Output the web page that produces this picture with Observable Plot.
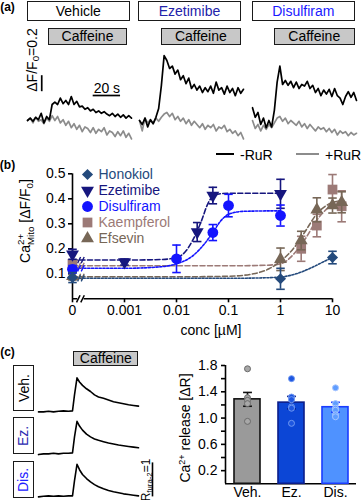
<!DOCTYPE html>
<html>
<head>
<meta charset="utf-8">
<script src="https://cdn.jsdelivr.net/npm/d3@7"></script>
<script src="https://cdn.jsdelivr.net/npm/@observablehq/plot@0.6"></script>
<style>
html,body{margin:0;padding:0;background:#fff;}
#fig{position:relative;width:363px;height:500px;overflow:hidden;background:#fff;font-family:"Liberation Sans",Arial,Helvetica,sans-serif;color:#000;}
#fig svg{position:absolute;}
.box{position:absolute;box-sizing:border-box;border:1.6px solid #1a1a1a;display:flex;align-items:center;justify-content:center;font-size:14px;line-height:1;white-space:nowrap;}
.lbl{position:absolute;white-space:nowrap;line-height:1;font-size:14px;}
.rotin{display:inline-block;transform:rotate(-90deg);}
</style>
</head>
<body>
<div id="fig"></div>
<script>
// ================= DATA =================
// (a) mitochondrial Ca2+ traces, ΔF/F0 relative to baseline, sampled every 2 s
const aTime = [0,2,4,6,8,10,12,14,16,18,20,22,24,26,28,30,32,34,36,38,40,42,44,46,48,50,52,54,56,58,60,62,64,66,68,70,72,74,76];
const aConditions = ["Vehicle","Ezetimibe","Disulfiram"];
const vehicleMinusRuR = [0,0.03,-0.01,0.04,0.01,0.09,-0.03,0.05,0.01,0.2,0.23,0.2,0.28,0.21,0.25,0.2,0.3,0.2,0.24,0.17,0.18,0.14,0.16,0.12,0.14,0.1,0.12,0.09,0.11,0.08,0.06,0.09,0.05,0.08,0.04,0.07,0.03,0.06,0.03];
const vehiclePlusRuR = [0,0.03,-0.03,0.04,-0.01,0.01,-0.04,0.03,-0.01,0.06,0,0.05,-0.03,0.01,-0.06,-0.01,-0.09,-0.04,-0.11,-0.06,-0.14,-0.08,-0.1,-0.15,-0.09,-0.16,-0.11,-0.14,-0.09,-0.18,-0.13,-0.15,-0.2,-0.14,-0.19,-0.13,-0.21,-0.16,-0.23];
const ezetimibeMinusRuR = [0,-0.05,0.03,-0.08,0.01,-0.04,0.04,0.15,0.44,0.81,0.75,0.65,0.68,0.58,0.63,0.51,0.56,0.46,0.53,0.4,0.45,0.38,0.43,0.35,0.41,0.36,0.43,0.34,0.48,0.38,0.41,0.33,0.43,0.35,0.4,0.31,0.41,0.34,0.39];
const ezetimibePlusRuR = [0,-0.13,0.03,-0.03,0.01,-0.04,0.03,-0.01,0.04,0.08,0.1,0.05,0.09,0.01,0.05,-0.01,0.03,-0.04,0.01,-0.06,-0.01,-0.05,-0.09,-0.04,-0.11,-0.06,-0.09,-0.05,-0.13,-0.08,-0.1,-0.06,-0.14,-0.11,-0.16,-0.13,-0.19,-0.15,-0.23];
const disulfiramMinusRuR = [0.16,0.04,0.1,-0.05,0.03,-0.09,0,-0.08,0.13,0.48,0.68,0.45,0.5,0.44,0.49,0.41,0.48,0.4,0.45,0.43,0.49,0.4,0.44,0.35,0.4,0.31,0.38,0.33,0.39,0.3,0.4,0.31,0.28,0.2,0.3,0.36,0.29,0.35,0.25];
const disulfiramPlusRuR = [0,-0.1,-0.05,-0.13,-0.06,-0.11,-0.05,-0.09,-0.03,0.03,0.05,-0.01,0.03,-0.04,0,-0.03,-0.06,-0.01,-0.08,-0.04,-0.1,-0.05,-0.09,-0.13,-0.08,-0.11,-0.09,-0.14,-0.1,-0.15,-0.11,-0.18,-0.13,-0.16,-0.14,-0.19,-0.15,-0.18,-0.16];
const aLegend = ["-RuR","+RuR"];

// (b) concentration–response
const seriesNames = ["Honokiol","Ezetimibe","Disulfiram","Kaempferol","Efsevin"];
const concTicks = [0,0.001,0.01,0.1,1,10];
const concTickLabels = ["0","0.001","0.01","0.1","1","10"];
const bYTicks = [0.1,0.2,0.3,0.4,0.5];
const honokiolConc = [0,1,10];
const honokiolMean = [0.085,0.08,0.165];
const honokiolSem  = [0.02,0.042,0.025];
const ezetimibeConc = [0,0.001,0.025,0.05,1];
const ezetimibeMean = [0.178,0.147,0.267,0.413,0.42];
const ezetimibeSem  = [0.02,0.012,0.038,0.033,0.058];
const disulfiramConc = [0,0.01,0.05,0.1,1];
const disulfiramMean = [0.118,0.16,0.265,0.373,0.333];
const disulfiramSem  = [0.015,0.055,0.032,0.045,0.042];
const kaempferolConc = [0,2.5,5,10,15];
const kaempferolMean = [0.14,0.2,0.293,0.437,0.37];
const kaempferolSem  = [0.015,0.05,0.045,0.06,0.062];
const efsevinConc = [0,1,2.5,5,10,15];
const efsevinMean = [0.09,0.158,0.233,0.356,0.373,0.386];
const efsevinSem  = [0.015,0.045,0.037,0.048,0.03,0.042];
// fitted curves
const honokiolFitConc = [0,0.001,0.01,0.1,0.5,1,2,4,7,10];
const honokiolFit     = [0.082,0.082,0.082,0.082,0.084,0.087,0.1,0.125,0.15,0.165];
const ezetimibeFitConc = [0,0.001,0.005,0.01,0.015,0.02,0.03,0.04,0.05,0.07,0.1,1];
const ezetimibeFit     = [0.155,0.155,0.157,0.165,0.19,0.23,0.31,0.38,0.41,0.42,0.422,0.422];
const disulfiramFitConc = [0,0.001,0.005,0.01,0.02,0.03,0.05,0.07,0.1,0.2,1];
const disulfiramFit     = [0.122,0.122,0.128,0.14,0.17,0.205,0.265,0.31,0.338,0.35,0.352];
const kaempferolFitConc = [0,0.01,0.1,0.5,1,2,3,5,10,15];
const kaempferolFit     = [0.132,0.132,0.132,0.134,0.14,0.19,0.24,0.315,0.375,0.385];
const efsevinFitConc = [0,0.01,0.1,0.3,0.6,1,2,3,5,10,15];
const efsevinFit     = [0.088,0.088,0.09,0.1,0.12,0.15,0.215,0.27,0.34,0.385,0.392];

// (c) fura-2 traces (ratio change) and release bar chart
const cTime = [0,5,10,15,20,25,30,34,36,38.5,41,44,48,52,56,60,65,70,75,80,85,90,95,100];
const cConditions = ["Veh.","Ez.","Dis."];
const vehFura = [0,0,0.02,0,0.02,0.03,0.02,0.03,0.5,1.0,0.88,0.78,0.68,0.6,0.5,0.44,0.4,0.35,0.3,0.27,0.24,0.21,0.19,0.17];
const ezFura  = [-0.02,0,0,0.02,0,0.02,0.02,0.03,0.5,0.96,0.82,0.7,0.58,0.5,0.44,0.4,0.36,0.32,0.29,0.26,0.24,0.22,0.2,0.18];
const disFura = [0,0.02,0.03,0.02,0.03,0.02,0.03,0.03,0.48,0.96,0.8,0.66,0.54,0.44,0.36,0.3,0.24,0.19,0.15,0.12,0.09,0.07,0.05,0.03];
const releaseMean = [1.285,1.235,1.165];
const releaseSem  = [0.105,0.095,0.075];
const vehRelease = [1.75,1.31,1.27,1.22,0.95];
const ezRelease  = [1.6,1.32,1.28,1.17,1.15,0.92];
const disRelease = [1.46,1.22,1.15,1.12,1.05,1.02];
const releaseTicks = [0.2,0.4,0.6,0.8,1.0,1.2,1.4,1.6,1.8];
const releaseTickLabels = ["0.2","","0.6","","1.0","","1.4","","1.8"];

// ================= HELPERS =================
const FONT = '"Liberation Sans", Arial, Helvetica, sans-serif';
const fig = document.getElementById("fig");
const baseStyle = {background:"transparent", overflow:"visible", fontFamily:FONT, fontSize:"14px", color:"#000"};
function put(svg, left, top){ svg.style.left = left+"px"; svg.style.top = top+"px"; fig.appendChild(svg); }
function box(html, l, t, w, h, o={}) {
  const d = document.createElement("div"); d.className = "box";
  Object.assign(d.style, {left:l+"px", top:t+"px", width:w+"px", height:h+"px", background:o.fill||"#fff", color:o.color||"#000"});
  d.innerHTML = o.rotate ? `<span class="rotin">${html}</span>` : html;
  fig.appendChild(d);
}
function label(html, x, y, o={}) {
  const d = document.createElement("div"); d.className = "lbl";
  const tx = o.anchor==="start" ? "0" : "-50%";
  Object.assign(d.style, {left:x+"px", top:y+"px", fontSize:(o.size||14)+"px", fontWeight:o.bold?"bold":"normal", color:o.color||"#000",
    transform:`translate(${tx},-50%)` + (o.rotate ? " rotate(-90deg)" : "")});
  d.innerHTML = html; fig.appendChild(d);
}
function hline(l, t, w, color){ const d=document.createElement("div"); Object.assign(d.style,{position:"absolute",left:l+"px",top:t+"px",width:w+"px",height:"2px",background:color}); fig.appendChild(d); }
const capSymbol = {draw(ctx, size){ const w = Math.sqrt(size); ctx.moveTo(-w,0); ctx.lineTo(w,0); }};
const downTriangle = {draw(ctx, size){ const y = -Math.sqrt(size/(Math.sqrt(3)*3)); ctx.moveTo(0,-2*y); ctx.lineTo(-Math.sqrt(3)*y, y); ctx.lineTo(Math.sqrt(3)*y, y); ctx.closePath(); }};
// axis-break glyph: two slanted strokes
const breakSymbol = {draw(ctx, size){ const s = Math.sqrt(size)/2; ctx.moveTo(-s*1.1, s); ctx.lineTo(-s*0.1, -s); ctx.moveTo(s*0.1, s); ctx.lineTo(s*1.1, -s); }};
const maskSymbol = {draw(ctx, size){ const s = Math.sqrt(size)/2; ctx.rect(-s*0.9, -s*0.5, s*1.8, s); }};

// ================= PANEL (a) =================
label("(a)", 7.5, 6.5, {bold:true, size:12});
const aTextColors = ["#000","#2222aa","#1a1aff"];
const aBoxLeft = [26.7, 138.3, 251.7], aBoxW = [103.3, 102.4, 103.3];
const aCafLeft = [48.3, 161, 274], aCafW = [78.4, 79.7, 80.5];
aConditions.forEach((c,k) => {
  box(c, aBoxLeft[k], 1, aBoxW[k], 20, {color:aTextColors[k]});
  box("Caffeine", aCafLeft[k], 27.7, aCafW[k], 17.5, {fill:"#c8c8c8"});
});
const aBlack = [vehicleMinusRuR, ezetimibeMinusRuR, disulfiramMinusRuR];
const aGray = [vehiclePlusRuR, ezetimibePlusRuR, disulfiramPlusRuR];
const aTraceLeft = [26.7, 139, 252.3];
aConditions.forEach((c,k) => {
  const marks = [
    Plot.line(aGray[k], {x:aTime, y:d=>d, stroke:"#8c8c8c", strokeWidth:1.7}),
    Plot.line(aBlack[k], {x:aTime, y:d=>d, stroke:"#000", strokeWidth:1.7})
  ];
  if (k===0) marks.push(
    Plot.ruleY([0.3125], {x1:48, x2:68, stroke:"#000", strokeWidth:1.7}),
    Plot.ruleX([10.4], {y1:0.36, y2:0.56, stroke:"#000", strokeWidth:1.7}),
    Plot.text(["20 s"], {x:58, y:0.3125, dy:-3, lineAnchor:"bottom", fontSize:14, fill:"#000"})
  );
  put(Plot.plot({width:104, height:96, margin:0, x:{domain:[0,76], axis:null}, y:{domain:[-0.3,0.9], axis:null}, style:baseStyle, marks}), aTraceLeft[k], 48);
});
label('ΔF/F<sub style="font-size:0.7em;vertical-align:-0.25em">0</sub>=0.2', 32.5, 59.5, {rotate:true});
hline(216, 153, 18, "#000");
label(aLegend[0], 240, 154.5, {anchor:"start"});
hline(296, 153, 23, "#8c8c8c");
label(aLegend[1], 325, 154.5, {anchor:"start"});

// ================= PANEL (b) =================
label("(b)", 7.5, 164.5, {bold:true, size:12});
const pos = c => c === 0 ? 1e-4 : c;   // "0" sits left of the axis break
const bSeries = {
  Honokiol:   {conc:honokiolConc, mean:honokiolMean, sem:honokiolSem, fitConc:honokiolFitConc, fit:honokiolFit},
  Ezetimibe:  {conc:ezetimibeConc, mean:ezetimibeMean, sem:ezetimibeSem, fitConc:ezetimibeFitConc, fit:ezetimibeFit},
  Disulfiram: {conc:disulfiramConc, mean:disulfiramMean, sem:disulfiramSem, fitConc:disulfiramFitConc, fit:disulfiramFit},
  Kaempferol: {conc:kaempferolConc, mean:kaempferolMean, sem:kaempferolSem, fitConc:kaempferolFitConc, fit:kaempferolFit},
  Efsevin:    {conc:efsevinConc, mean:efsevinMean, sem:efsevinSem, fitConc:efsevinFitConc, fit:efsevinFit}
};
const bStyles = {
  Honokiol:   {color:"#244a7c", symbol:d3.symbolDiamond2, r:5,   dash:"2,1.6"},
  Ezetimibe:  {color:"#16167e", symbol:downTriangle,     r:4.8, dash:"5,2.5"},
  Disulfiram: {color:"#1414ff", symbol:d3.symbolCircle,   r:5.4, dash:"2.2,1.6"},
  Kaempferol: {color:"#9c7a77", symbol:d3.symbolSquare,   r:5.5, dash:"5,2.5"},
  Efsevin:    {color:"#776757", symbol:d3.symbolTriangle, r:4.8, dash:"5,2.5"}
};
const tickPos = concTicks.map(pos);
const bMarks = [
  Plot.ruleX([1e-4], {y1:0, y2:0.5, stroke:"#000", strokeWidth:1.6}),
  Plot.ruleY([0], {x1:1e-4, x2:10, stroke:"#000", strokeWidth:1.6}),
  Plot.axisY({ticks:bYTicks, tickSize:4, tickPadding:3, tickFormat:d=>d.toFixed(1), fontSize:14, strokeWidth:1.6, label:null}),
  Plot.axisX({ticks:tickPos, tickSize:4, tickPadding:2, tickFormat:d=>concTickLabels[tickPos.indexOf(d)], fontSize:14, strokeWidth:1.6, label:null})
];
["Kaempferol","Efsevin","Honokiol","Disulfiram","Ezetimibe"].forEach(n => {
  const s = bSeries[n], st = bStyles[n];
  bMarks.push(Plot.line(s.fit, {x:s.fitConc.map(pos), y:d=>d, stroke:st.color, strokeWidth:1.6, strokeDasharray:st.dash, curve:"monotone-x"}));
});
["Kaempferol","Efsevin","Honokiol","Disulfiram","Ezetimibe"].forEach(n => {
  const s = bSeries[n], st = bStyles[n];
  bMarks.push(Plot.dot([s.fit[0]], {x:1.45e-4, y:d=>d, symbol:breakSymbol, r:3.4, fill:"none", stroke:st.color, strokeWidth:1.4}));
});
["Kaempferol","Efsevin","Ezetimibe","Disulfiram","Honokiol"].forEach(n => {
  const s = bSeries[n], st = bStyles[n];
  const rows = s.conc.map((c,i) => ({x:pos(c), y:s.mean[i], lo:s.mean[i]-s.sem[i], hi:s.mean[i]+s.sem[i]}));
  bMarks.push(
    Plot.ruleX(rows, {x:"x", y1:"lo", y2:"hi", stroke:st.color, strokeWidth:1.6}),
    Plot.dot(rows, {x:"x", y:"lo", symbol:capSymbol, r:2.4, fill:"none", stroke:st.color, strokeWidth:1.6}),
    Plot.dot(rows, {x:"x", y:"hi", symbol:capSymbol, r:2.4, fill:"none", stroke:st.color, strokeWidth:1.6}),
    Plot.dot(rows, {x:"x", y:"y", symbol:st.symbol, r:st.r, fill:st.color, stroke:"none"})
  );
});
bMarks.push(
  Plot.dot([0], {x:1.42e-4, y:d=>d, symbol:maskSymbol, r:4, fill:"#fff", stroke:"none"}),
  Plot.dot([0], {x:1.42e-4, y:d=>d, symbol:breakSymbol, r:4, fill:"none", stroke:"#000", strokeWidth:1.5})
);
put(Plot.plot({width:363, height:180, marginLeft:72, marginRight:31, marginTop:13.3, marginBottom:41.7,
  x:{type:"log", domain:[1e-4,10]}, y:{domain:[0,0.5]}, style:baseStyle, marks:bMarks}), 0, 160);

// legend (b)
const legMarks = [];
seriesNames.forEach(n => {
  const st = bStyles[n];
  legMarks.push(Plot.dot([n], {y:d=>d, frameAnchor:"left", symbol:st.symbol, r:st.r, fill:st.color}));
  legMarks.push(Plot.text([n], {y:d=>d, frameAnchor:"left", dx:11, textAnchor:"start", fill:st.color, fontSize:14}));
});
put(Plot.plot({width:130, height:90, marginLeft:7, marginRight:0, marginTop:0, marginBottom:0,
  y:{type:"point", domain:seriesNames, range:[13.3,78], padding:0, axis:null}, style:baseStyle, marks:legMarks}), 80, 160);

label('Ca<span style="display:inline-block;position:relative;font-size:0.7em;vertical-align:-0.4em">Mito<span style="position:absolute;left:0;top:-1.05em">2+</span></span> [ΔF/F<sub style="font-size:0.7em;vertical-align:-0.25em">0</sub>]', 27, 221, {rotate:true});
label("conc [µM]", 211, 329.5);

// ================= PANEL (c) =================
label("(c)", 7.5, 352, {bold:true, size:12});
box("Caffeine", 73.3, 350.7, 65, 15.5, {fill:"#c8c8c8"});
const cTextColors = ["#000","#2a2ab0","#2020ff"];
const cBoxTop = [365, 417.3, 461], cBoxH = [45.7, 37, 37.3];
cConditions.forEach((c,k) => box(c, 13.3, cBoxTop[k], 20.5, cBoxH[k], {rotate:true, color:cTextColors[k]}));
const cTraces = [vehFura, ezFura, disFura];
const cBaseline = [411.7, 453.3, 496];
cTraces.forEach((arr,k) => {
  const marks = [Plot.line(arr, {x:cTime, y:d=>d, stroke:"#000", strokeWidth:1.6})];
  if (k===2) marks.push(Plot.ruleX([114], {y1:0, y2:1, stroke:"#000", strokeWidth:1.6}));
  put(Plot.plot({width:100, height:40.8, margin:0, x:{domain:[0,100], axis:null}, y:{domain:[-0.1,1.1], axis:null}, style:baseStyle, marks}), 38, cBaseline[k]-37.4);
});
label('R<sub style="font-size:0.65em;vertical-align:-0.3em">fura-2</sub>=1', 146.5, 480, {rotate:true, size:12});

// bar chart
const barStyles = [
  {fill:"#9a9a9a", stroke:"#111111", dot:"#a8a8a8", dotStroke:"#6a6a6a"},
  {fill:"#0c46d6", stroke:"#0a1d8a", dot:"#1e56e0", dotStroke:"#6f98f2"},
  {fill:"#4f92ff", stroke:"#1a3cff", dot:"#5f9dff", dotStroke:"#a8c6ff"}
];
const barDots = [vehRelease, ezRelease, disRelease];
const cLeft = 225, cRight = 7, cW = 363;
const cMarks = [
  Plot.ruleY([0], {stroke:"#000", strokeWidth:1.6}),
  Plot.ruleX([0], {x:null, y1:0, y2:1.8, dx:-(cW-cLeft-cRight)/2, stroke:"#000", strokeWidth:1.6}),
  Plot.axisY({ticks:releaseTicks, tickFormat:d=>releaseTickLabels[releaseTicks.indexOf(d)], tickSize:4, tickPadding:4, fontSize:14, strokeWidth:1.6, label:null}),
  Plot.axisX({tickSize:0, tickPadding:3, fontSize:14, label:null})
];
cConditions.forEach((c,i) => {
  const row = [{c, mean:releaseMean[i], lo:releaseMean[i]-releaseSem[i], hi:releaseMean[i]+releaseSem[i]}];
  const st = barStyles[i];
  cMarks.push(
    Plot.barY(row, {x:"c", y:"mean", fill:st.fill, stroke:st.stroke, strokeWidth:1.6}),
    Plot.ruleX(row, {x:"c", y1:"lo", y2:"hi", stroke:st.stroke, strokeWidth:1.6}),
    Plot.dot(row, {x:"c", y:"lo", symbol:capSymbol, r:2.5, fill:"none", stroke:st.stroke, strokeWidth:1.6}),
    Plot.dot(row, {x:"c", y:"hi", symbol:capSymbol, r:2.5, fill:"none", stroke:st.stroke, strokeWidth:1.6}),
    Plot.dot(barDots[i], {x:()=>c, y:d=>d, r:3, fill:st.dot, stroke:st.dotStroke, strokeWidth:1})
  );
});
put(Plot.plot({width:cW, height:145, marginLeft:cLeft, marginRight:cRight, marginTop:10, marginBottom:16.7,
  x:{type:"band", domain:cConditions, paddingInner:0.42, paddingOuter:0.18}, y:{domain:[0,1.8]}, style:baseStyle, marks:cMarks}), 0, 355);
label('Ca<sup style="font-size:0.65em;vertical-align:0.5em">2+</sup> release [ΔR]', 185, 428, {rotate:true});
</script>
</body>
</html>
